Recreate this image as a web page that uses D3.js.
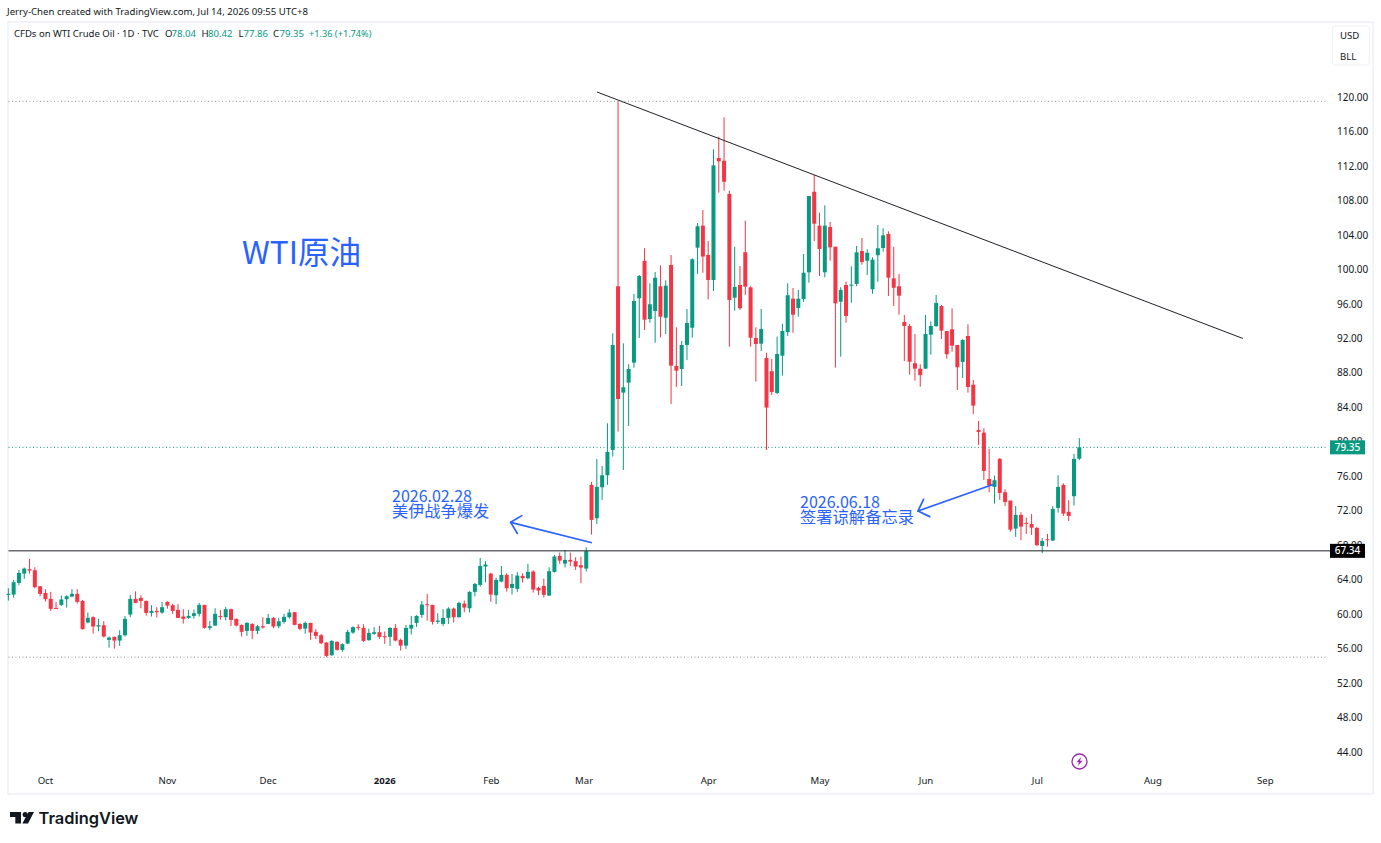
<!DOCTYPE html>
<html><head><meta charset="utf-8">
<script src="https://cdn.jsdelivr.net/npm/d3@7"></script>
<style>html,body{margin:0;padding:0;background:#fff;overflow:hidden}svg{display:block}
text{font-family:"Noto Sans",sans-serif}</style></head><body>
<script>
const opens=[62.27,62.27,63.62,64.70,65.21,65.09,63.23,62.46,61.77,60.72,
61.07,61.73,62.04,62.35,61.53,59.02,59.64,58.56,58.71,57.01,
57.36,56.93,57.55,59.95,61.77,61.88,61.53,60.14,60.37,60.18,
61.42,61.03,60.49,59.72,59.56,59.79,60.03,61.07,58.40,58.67,
59.79,59.64,60.57,59.45,58.75,58.05,58.86,58.05,58.59,58.86,
59.56,58.59,59.10,59.64,60.22,58.86,58.32,58.98,57.94,57.55,
56.70,55.23,56.78,55.85,56.58,57.86,58.52,58.40,56.97,57.71,
57.90,57.43,57.36,58.40,57.01,56.35,58.32,58.98,59.91,61.15,
61.07,59.10,58.86,59.56,60.64,59.64,61.22,60.68,62.58,63.39,
65.52,64.70,62.19,63.78,64.55,63.04,62.93,64.43,64.16,64.94,
63.04,63.27,62.15,64.90,66.75,65.86,66.29,66.14,65.67,65.28,
74.99,71.12,74.72,76.11,79.05,98.04,85.70,86.86,89.18,96.65,
100.98,94.24,95.17,98.04,94.39,100.51,88.79,88.44,91.23,93.23,
102.52,105.07,101.67,98.77,112.92,112.61,108.75,96.72,98.19,101.99,
97.92,92.04,91.38,89.72,88.18,85.66,89.99,92.73,96.60,95.52,
96.56,99.66,109.01,105.07,99.66,104.92,102.63,96.25,98.19,98.16,
98.31,102.13,101.00,97.69,101.64,102.48,104.11,98.96,98.04,93.90,
93.43,89.11,88.48,88.48,92.42,93.40,95.75,92.85,93.05,91.23,
89.26,92.27,86.62,81.37,81.06,75.68,74.76,78.01,74.14,73.17,
69.92,71.51,70.58,70.47,70.00,67.91,68.69,68.53,72.32,74.99,
71.87,73.68,78.04];
const closes=[62.35,63.70,64.78,65.28,65.05,63.12,62.35,61.73,60.61,60.64,
61.69,62.07,62.35,61.42,58.25,59.56,58.56,58.71,57.40,57.28,
56.93,57.55,59.45,61.77,61.30,61.53,60.14,60.37,60.22,60.80,
60.99,60.37,59.56,59.45,59.79,60.10,61.07,58.40,58.59,60.03,
59.72,60.57,59.33,58.67,57.94,58.98,58.05,58.59,58.44,59.56,
58.56,59.17,59.68,60.18,58.75,58.29,58.98,57.86,57.47,56.62,
55.15,56.89,55.85,56.51,57.94,58.48,58.44,56.89,57.82,57.90,
57.36,57.36,58.40,56.93,56.35,58.40,58.75,59.79,61.11,61.07,
59.10,59.25,59.56,60.64,59.64,61.30,60.76,62.58,63.50,65.59,
65.75,62.27,63.97,64.55,63.00,63.50,64.47,64.16,64.90,62.85,
62.73,62.23,64.97,66.68,66.21,66.29,66.10,65.52,65.40,67.30,
70.93,74.76,76.11,78.82,91.23,84.96,86.32,88.45,96.33,99.23,
94.16,95.95,99.03,94.51,98.11,88.83,88.25,91.23,93.78,101.17,
105.00,101.49,98.77,112.07,112.54,110.17,96.45,97.96,95.49,97.99,
92.07,91.35,93.09,83.96,85.78,90.18,92.85,97.00,94.74,96.60,
99.61,108.51,105.30,102.37,105.07,102.56,96.06,97.61,94.59,98.23,
101.98,100.86,101.93,101.12,102.45,103.95,99.04,97.87,96.95,93.43,
89.29,88.48,87.72,92.50,93.43,96.10,92.89,90.15,91.15,88.64,
91.81,86.36,84.19,81.14,76.61,74.90,75.53,74.06,73.02,69.80,
71.51,70.15,70.50,70.03,68.00,68.49,68.61,72.21,74.76,71.66,
71.39,78.01,79.35];
const highs=[63.00,63.97,65.13,65.40,66.41,65.44,63.27,62.89,62.58,61.42,
62.15,62.19,62.89,62.89,61.65,60.18,59.75,59.45,59.17,57.40,
57.40,58.13,59.79,62.23,62.65,62.19,61.57,61.03,60.80,61.42,
61.49,61.19,61.15,60.57,60.49,60.53,61.30,61.07,59.21,60.68,
60.49,60.84,60.64,59.48,58.79,59.06,58.94,58.75,59.64,60.03,
59.64,59.56,60.03,60.57,60.26,58.94,59.14,58.98,58.25,57.71,
56.74,56.97,56.85,56.62,58.17,58.59,58.83,58.83,58.32,58.48,
58.63,57.98,58.48,58.86,57.16,58.75,59.79,59.87,61.53,62.35,
61.07,60.10,60.57,60.80,60.76,61.42,61.57,62.65,63.62,66.52,
66.14,64.78,64.24,65.59,64.74,64.66,64.86,64.74,65.83,65.09,
63.20,64.12,65.44,66.87,67.14,67.45,67.14,66.60,66.68,67.76,
75.34,78.00,77.19,82.14,92.58,119.50,91.42,88.99,97.15,99.35,
102.45,98.38,99.69,100.47,98.73,101.67,93.28,91.69,95.40,101.28,
105.38,106.89,103.29,113.93,115.39,117.64,109.13,102.63,100.39,105.65,
98.04,93.28,95.41,90.33,89.61,92.20,93.70,98.38,97.84,97.61,
101.78,108.51,110.95,106.58,107.43,105.50,102.63,97.93,98.57,100.36,
102.72,103.64,102.33,101.40,105.15,104.77,104.42,102.63,99.47,94.71,
93.67,92.50,88.99,94.71,93.97,97.03,95.87,92.85,95.48,91.23,
91.89,93.63,87.17,82.41,81.57,79.17,76.07,78.12,74.49,73.17,
72.55,71.82,71.20,71.62,70.15,68.84,69.31,72.55,76.11,75.18,
73.21,78.59,80.42];
const lows=[61.57,61.92,63.35,64.09,64.70,63.00,62.07,61.46,60.37,60.57,
60.95,60.76,61.96,61.22,58.21,58.94,57.74,58.01,57.28,56.12,
56.00,56.31,57.40,59.64,61.26,60.68,59.83,59.72,59.60,60.03,
60.64,60.03,59.52,58.90,59.45,59.48,59.72,58.32,58.13,58.63,
59.33,59.29,58.63,58.59,57.40,57.47,57.09,57.67,58.32,58.83,
58.36,58.36,58.90,59.48,58.71,58.13,57.71,57.01,57.09,56.51,
55.00,55.15,55.77,55.62,56.54,57.71,58.13,56.78,56.93,57.59,
57.13,56.54,56.31,56.85,55.77,55.96,57.63,58.52,59.56,59.25,
58.79,58.86,58.63,58.86,59.02,59.60,60.22,60.18,62.07,63.20,
63.70,61.42,61.15,63.70,62.62,62.27,62.58,63.66,64.05,62.50,
62.19,61.92,62.11,64.82,65.83,65.40,65.59,65.13,63.58,64.94,
69.23,70.46,73.25,74.99,78.28,81.17,76.73,81.83,88.60,92.04,
92.97,93.81,91.49,92.12,92.50,84.38,86.36,86.47,89.49,92.07,
99.47,99.60,96.53,97.49,108.90,109.13,91.03,95.21,95.29,97.03,
91.03,86.97,90.53,79.05,85.43,85.53,87.67,92.27,92.64,94.51,
96.22,98.46,103.29,99.23,99.08,101.01,88.60,89.87,93.81,96.13,
98.04,100.54,99.35,97.18,98.57,102.05,96.92,95.75,94.74,89.37,
87.78,87.09,86.39,88.48,90.10,93.36,91.92,89.64,90.45,86.01,
87.40,85.70,83.19,79.63,75.57,74.14,72.82,73.25,72.55,69.57,
68.96,68.57,69.31,69.19,67.91,67.07,67.83,68.49,71.77,71.39,
70.81,72.60,77.86];
const priceTicks=[120,116,112,108,104,100,96,92,88,84,80,76,72,68,64,60,56,52,48,44];
const monthIdx=[6.9,29.9,48.9,70.9,91,108.5,132,153,173,194,215.8,237];
const monthLabels=["Oct","Nov","Dec","2026","Feb","Mar","Apr","May","Jun","Jul","Aug","Sep"];
const trendLine=[[111.03,120.58],[232.86,91.98]];
const arrowA=[[110.08,68.28],[94.75,70.65]];
const arrowB=[[185.72,75.04],[171.57,71.96]];
const highLevel=119.5,lowLevel=55.0,lastClose=79.35,support=67.34;

const W=1381,H=843;
const x=d3.scaleLinear().domain([0,202]).range([8.33,1079.3]);
const y=d3.scaleLinear().domain([44,120]).range([752,97]);
const UP="#089981",DN="#F23645",BLUE="#2962FF",INK="#131722";
const svg=d3.select("body").append("svg").attr("width",W).attr("height",H);

svg.append("text").attr("x",7).attr("y",15).attr("font-size",9.65).attr("fill",INK)
 .text("Jerry-Chen created with TradingView.com, Jul 14, 2026 09:55 UTC+8");
svg.append("rect").attr("x",8).attr("y",22).attr("width",1365).attr("height",772)
 .attr("fill","#fff").attr("stroke","#eef0f4").attr("stroke-width",1.5);

// reference levels
const L=8.5,R=1328;
[[highLevel,"#8a8e99"],[lowLevel,"#8a8e99"],[lastClose,UP]].forEach(([v,c])=>{
 svg.append("line").attr("x1",L).attr("x2",R).attr("y1",y(v)).attr("y2",y(v))
  .attr("stroke",c).attr("stroke-dasharray","1 2.5");
});

// candles
const idx=d3.range(opens.length);
const g=svg.append("g");
g.selectAll("line.w").data(idx).join("line").attr("class","w")
 .attr("x1",i=>x(i)).attr("x2",i=>x(i)).attr("y1",i=>y(highs[i])).attr("y2",i=>y(lows[i]))
 .attr("stroke",i=>closes[i]>=opens[i]?UP:DN).attr("stroke-width",1);
g.selectAll("rect.b").data(idx).join("rect").attr("class","b")
 .attr("x",i=>x(i)-2).attr("width",4)
 .attr("y",i=>y(Math.max(opens[i],closes[i])))
 .attr("height",i=>Math.max(1,Math.abs(y(opens[i])-y(closes[i]))))
 .attr("fill",i=>closes[i]>=opens[i]?UP:DN);

// drawings
svg.append("line").attr("x1",L).attr("x2",1330).attr("y1",y(support)).attr("y2",y(support))
 .attr("stroke","#1f2128").attr("stroke-width",1);
svg.append("line").attr("x1",x(trendLine[0][0])).attr("y1",y(trendLine[0][1]))
 .attr("x2",x(trendLine[1][0])).attr("y2",y(trendLine[1][1]))
 .attr("stroke","#1f2128").attr("stroke-width",1);
function arrow(a){
 const x0=x(a[0][0]),y0=y(a[0][1]),x1=x(a[1][0]),y1=y(a[1][1]);
 const ang=Math.atan2(y0-y1,x0-x1),len=13;
 [-Math.PI/4,Math.PI/4].forEach(d=>{
  svg.append("line").attr("x1",x1).attr("y1",y1)
   .attr("x2",x1+len*Math.cos(ang+d)).attr("y2",y1+len*Math.sin(ang+d))
   .attr("stroke",BLUE).attr("stroke-width",1.7).attr("stroke-linecap","round");
 });
 svg.append("line").attr("x1",x0).attr("y1",y0).attr("x2",x1).attr("y2",y1)
  .attr("stroke",BLUE).attr("stroke-width",1.7);
}
arrow(arrowA);arrow(arrowB);

const cjk='"Noto Sans CJK SC","Noto Sans",sans-serif';
function note(t,xp,yp,fs){svg.append("text").attr("x",xp).attr("y",yp).attr("font-size",fs)
 .attr("fill",BLUE).style("font-family",cjk).text(t);}
note("WTI原油",242,264,31.6);
note("2026.02.28",392,502,16);
note("美伊战争爆发",392,517,16.2);
note("2026.06.18",800,508,16);
note("签署谅解备忘录",800,523,16.3);

// legend
const lg=(t,xp,c,fs)=>svg.append("text").attr("x",xp).attr("y",37).attr("font-size",fs||9.6).attr("fill",c).text(t);
lg("CFDs on WTI Crude Oil · 1D · TVC",14,INK,9.5);
lg("O",165,INK);lg("78.04",171.5,UP);
lg("H",201.5,INK);lg("80.42",208,UP);
lg("L",238.5,INK);lg("77.86",243.5,UP);
lg("C",273,INK);lg("79.35",279.5,UP);
lg("+1.36 (+1.74%)",309,UP,9.2);

// USD / BLL box
svg.append("rect").attr("x",1332.5).attr("y",26).attr("width",37).attr("height",39).attr("rx",3)
 .attr("fill","#fff").attr("stroke","#eef0f4");
[["USD",39],["BLL",60]].forEach(([t,yy])=>svg.append("text").attr("x",1340).attr("y",yy)
 .attr("font-size",9.6).attr("fill",INK).text(t));

// axes
const ay=svg.append("g").attr("transform","translate(1337,0)")
 .call(d3.axisRight(y).tickValues(priceTicks).tickSize(0).tickPadding(0).tickFormat(d3.format(".2f")));
ay.select(".domain").remove();
ay.selectAll("text").attr("font-size",10).attr("fill",INK).style("font-family",'"Noto Sans",sans-serif');
const ax=svg.append("g").attr("transform","translate(0,774)")
 .call(d3.axisBottom(x).tickValues(monthIdx).tickSize(0).tickPadding(3).tickFormat((d,i)=>monthLabels[i]));
ax.select(".domain").remove();
ax.selectAll("text").attr("font-size",9.6).attr("fill",INK).style("font-family",'"Noto Sans",sans-serif')
 .attr("font-weight",(d,i)=>monthLabels[i]==="2026"?700:400);

// price tags
[[lastClose,UP],[support,"#000"]].forEach(([v,c])=>{
 svg.append("rect").attr("x",1330).attr("width",35).attr("y",y(v)-7).attr("height",14).attr("fill",c);
 svg.append("text").attr("x",1347.5).attr("y",y(v)+3.6).attr("text-anchor","middle")
  .attr("font-size",10).attr("font-weight",500).attr("fill","#fff").text(v.toFixed(2));
});

// lightning icon
const bolt=svg.append("g").attr("transform","translate(1079.5,761.5)");
bolt.append("circle").attr("r",7.5).attr("fill","#fff").attr("stroke","#9C27B0").attr("stroke-width",1.3);
bolt.append("path").attr("d","M1.6,-4.6 L-3,0.8 L-0.5,0.8 L-1.6,4.6 L3,-0.8 L0.5,-0.8 Z").attr("fill","#9C27B0");

// logo
const logo=svg.append("g").attr("fill","#131722");
logo.append("path").attr("d","M10,812H21V823.5H15.3V816.9H10Z");
logo.append("circle").attr("cx",25.2).attr("cy",814.6).attr("r",2.6);
logo.append("path").attr("d","M28.6,812H34L28,823.5H22.3Z");
svg.append("text").attr("x",38.5).attr("y",824).attr("font-size",16.4).attr("font-weight",600)
 .attr("fill","#131722").style("font-family","Inter,sans-serif").text("TradingView");
</script></body></html>
